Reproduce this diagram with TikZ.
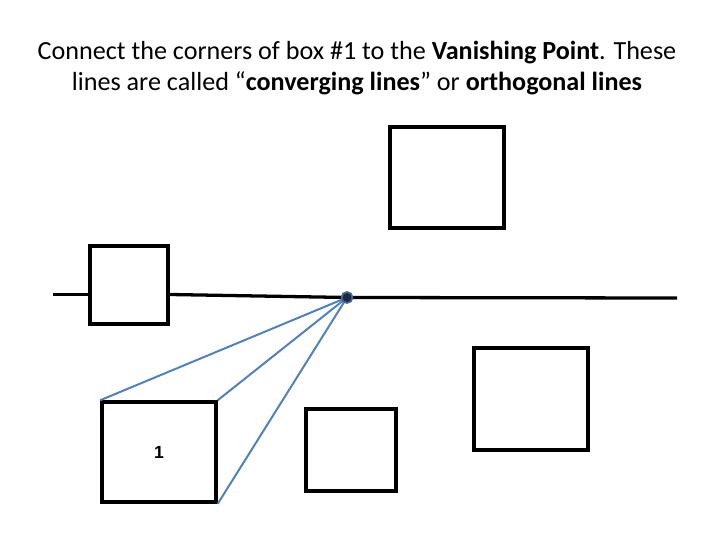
\documentclass[tikz,border=0pt]{standalone}
\usepackage{fontspec}
\setmainfont{Carlito}
\newfontfamily\labelfont{Liberation Sans}
\usepackage{xcolor}
\usetikzlibrary{positioning}
\definecolor{orthoblue}{RGB}{79,129,189}
\definecolor{vpdark}{RGB}{30,40,60}

\tikzset{
    box/.style={draw=black, fill=white, line width=3pt, inner sep=0pt},
    ortho/.style={orthoblue, line width=1.7pt},
    horizon/.style={black, line width=2.8pt}
}

\begin{document}
\begin{tikzpicture}[x=0.03cm, y=-0.03cm]
    \useasboundingbox (0,0) rectangle (720,540);

    % Title
    \node[align=center, font=\fontsize{22.3}{26.5}\selectfont] (title) at (357,68)
        {Connect the corners of box \#1 to the \textbf{Vanishing Point}. These\\
         lines are called ``\textbf{converging lines}'' or \textbf{orthogonal lines}};

    % Horizon line
    \coordinate (hl) at (53,294.5);
    \coordinate (hr) at (677,298);
    \coordinate (vp) at (347,297.5);

    % Boxes
    \node[box, minimum width=114*0.03cm, minimum height=101*0.03cm] (top) at (447,177.5) {};
    \node[box, minimum width=78*0.03cm, minimum height=78*0.03cm] (left) at (129,285) {};
    \node[box, minimum width=114*0.03cm, minimum height=100*0.03cm,
          font=\labelfont\bfseries\fontsize{15}{17}\selectfont] (one) at (159,452) {1};
    \node[box, minimum width=90*0.03cm, minimum height=82*0.03cm] (mid) at (351,450) {};
    \node[box, minimum width=114*0.03cm, minimum height=102*0.03cm] (right) at (531,399) {};

    \draw[horizon] (hl) -- (left.west |- hl);
    \draw[horizon] (left.east |- hl) -- (vp) -- (hr);

    % Converging lines
    \draw[ortho] (vp) -- (one.north west);
    \draw[ortho] (vp) -- (one.north east);
    \draw[ortho] (vp) -- (one.south east);

    % Vanishing point
    \node[circle, draw=orthoblue!80!black, fill=vpdark, line width=1.5pt,
          minimum size=11*0.03cm, inner sep=0pt] (vpdot) at (vp) {};
\end{tikzpicture}
\end{document}
